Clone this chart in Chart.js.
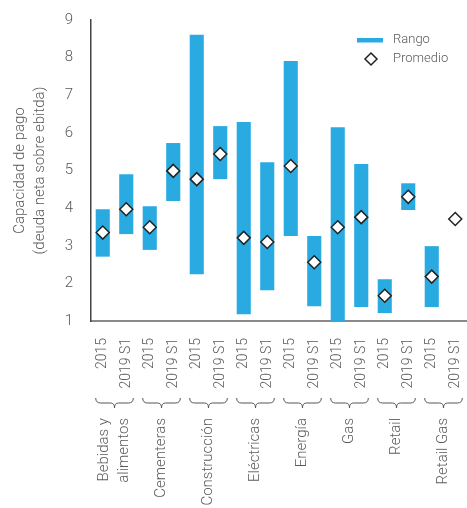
<!DOCTYPE html>
<html>
<head>
<meta charset="utf-8">
<script src="https://cdn.jsdelivr.net/npm/chart.js@4.4.0/dist/chart.umd.min.js"></script>
<style>
  html, body { margin: 0; padding: 0; background: #fff; overflow: hidden; }
  #wrap { width: 467px; height: 508px; position: relative; }
</style>
</head>
<body>
<div id="wrap"><canvas id="rangeChart"></canvas></div>
<script>
// periods shown for every sector, in order
const periods = ['2015', '2019 S1'];
const sectors = ['Bebidas y\nalimentos', 'Cementeras', 'Construcción', 'Eléctricas', 'Energía', 'Gas', 'Retail', 'Retail Gas'];

// one entry per sector/period pair
const rangeLow  = [2.71, 3.31, 2.89, 4.19, 2.24, 4.77, 1.18, 1.82, 3.26, 1.39, 1.00, 1.37, 1.21, 3.95, 1.37, null];
const rangeHigh = [3.97, 4.90, 4.05, 5.73, 8.61, 6.18, 6.29, 5.22, 7.91, 3.26, 6.15, 5.17, 2.11, 4.66, 2.99, null];
const average   = [3.35, 3.97, 3.49, 4.99, 4.77, 5.44, 3.21, 3.10, 5.12, 2.56, 3.49, 3.76, 1.67, 4.30, 2.18, 3.71];

const yTicks = [1, 2, 3, 4, 5, 6, 7, 8, 9];

const labels = [];
sectors.forEach(() => periods.forEach(p => labels.push(p)));

const BLUE = '#29abe2';
const TEXT = '#5a5a5a';
const FONT = 'Roboto, "Open Sans", sans-serif';

// braces and sector names under the period labels
const sectorLabels = {
  id: 'sectorLabels',
  afterDraw(chart) {
    const { ctx } = chart;
    const x = chart.scales.x;
    const braceTop = 398;
    ctx.save();
    sectors.forEach((name, i) => {
      const a = x.getPixelForValue(i * 2);
      const b = x.getPixelForValue(i * 2 + 1);
      const half = x.getPixelForValue(1) - x.getPixelForValue(0);
      const left = a - half * 0.3;
      const right = b + half * 0.3;
      const mid = (a + b) / 2;

      // curly brace
      ctx.strokeStyle = '#555';
      ctx.lineWidth = 1;
      ctx.beginPath();
      ctx.moveTo(left, braceTop);
      ctx.quadraticCurveTo(left, braceTop + 5, left + 5, braceTop + 5);
      ctx.lineTo(mid - 4, braceTop + 5);
      ctx.quadraticCurveTo(mid, braceTop + 5, mid, braceTop + 10);
      ctx.quadraticCurveTo(mid, braceTop + 5, mid + 4, braceTop + 5);
      ctx.lineTo(right - 5, braceTop + 5);
      ctx.quadraticCurveTo(right, braceTop + 5, right, braceTop);
      ctx.stroke();

      // rotated sector name
      const lines = name.split('\n');
      const lh = 20;
      ctx.save();
      ctx.translate(mid, 418);
      ctx.rotate(-Math.PI / 2);
      ctx.fillStyle = TEXT;
      ctx.font = '300 15px ' + FONT;
      ctx.textAlign = 'right';
      ctx.textBaseline = 'middle';
      lines.forEach((ln, k) => {
        ctx.fillText(ln, 0, (k - (lines.length - 1) / 2) * lh);
      });
      ctx.restore();
    });
    ctx.restore();
  }
};

// legend in the top right corner
const cornerLegend = {
  id: 'cornerLegend',
  afterDraw(chart) {
    const { ctx } = chart;
    ctx.save();
    ctx.fillStyle = BLUE;
    ctx.fillRect(357, 38, 26, 4.5);

    const cx = 371, cy = 59, r = 6;
    ctx.beginPath();
    ctx.moveTo(cx, cy - r);
    ctx.lineTo(cx + r, cy);
    ctx.lineTo(cx, cy + r);
    ctx.lineTo(cx - r, cy);
    ctx.closePath();
    ctx.fillStyle = '#fff';
    ctx.fill();
    ctx.strokeStyle = '#222';
    ctx.lineWidth = 1.5;
    ctx.stroke();

    ctx.fillStyle = TEXT;
    ctx.font = '300 13px ' + FONT;
    ctx.textBaseline = 'middle';
    ctx.fillText('Rango', 393, 40);
    ctx.fillText('Promedio', 393, 59);
    ctx.restore();
  }
};

new Chart(document.getElementById('rangeChart'), {
  data: {
    labels: labels,
    datasets: [
      {
        type: 'scatter',
        label: 'Promedio',
        data: average.map((v, i) => ({ x: labels[i], y: v })),
        pointStyle: 'rectRot',
        pointRadius: 6.5,
        pointBackgroundColor: '#fff',
        pointBorderColor: '#222',
        pointBorderWidth: 1.5,
        clip: false,
        order: 0
      },
      {
        type: 'bar',
        label: 'Rango',
        data: rangeLow.map((lo, i) => lo === null ? null : [lo, rangeHigh[i]]),
        backgroundColor: BLUE,
        borderWidth: 0,
        barPercentage: 0.6,
        categoryPercentage: 1,
        order: 1
      }
    ]
  },
  options: {
    responsive: true,
    maintainAspectRatio: false,
    animation: false,
    layout: { autoPadding: false, padding: { top: 20, right: 0, left: 0, bottom: 0 } },
    plugins: {
      legend: { display: false },
      tooltip: { enabled: false }
    },
    scales: {
      x: {
        type: 'category',
        labels: labels,
        offset: true,
        grid: { display: false },
        border: { display: true, color: '#8a8a8a', width: 2 },
        ticks: {
          color: TEXT,
          font: { family: FONT, size: 14, weight: '300' },
          minRotation: 90,
          maxRotation: 90,
          padding: 9,
          autoSkip: false
        },
        afterFit(scale) {
          scale.height = 187;
          scale.paddingLeft = 0;
          scale.paddingRight = 0;
        }
      },
      y: {
        min: 1,
        max: 9,
        afterBuildTicks(scale) { scale.ticks = yTicks.map(v => ({ value: v })); },
        grid: { display: false },
        border: { display: true, color: '#444', width: 1.5 },
        ticks: {
          color: TEXT,
          font: { family: FONT, size: 15, weight: '300' },
          padding: 10
        },
        title: {
          display: true,
          text: ['Capacidad de pago', '(deuda neta sobre ebitda)'],
          color: TEXT,
          font: { family: FONT, size: 15, weight: '300', lineHeight: 1.33 },
          padding: { top: 10, bottom: 0 }
        },
        afterFit(scale) {
          scale.width = 91;
          scale.paddingTop = 0;
          scale.paddingBottom = 0;
        }
      }
    }
  },
  plugins: [sectorLabels, cornerLegend]
});
</script>
</body>
</html>
